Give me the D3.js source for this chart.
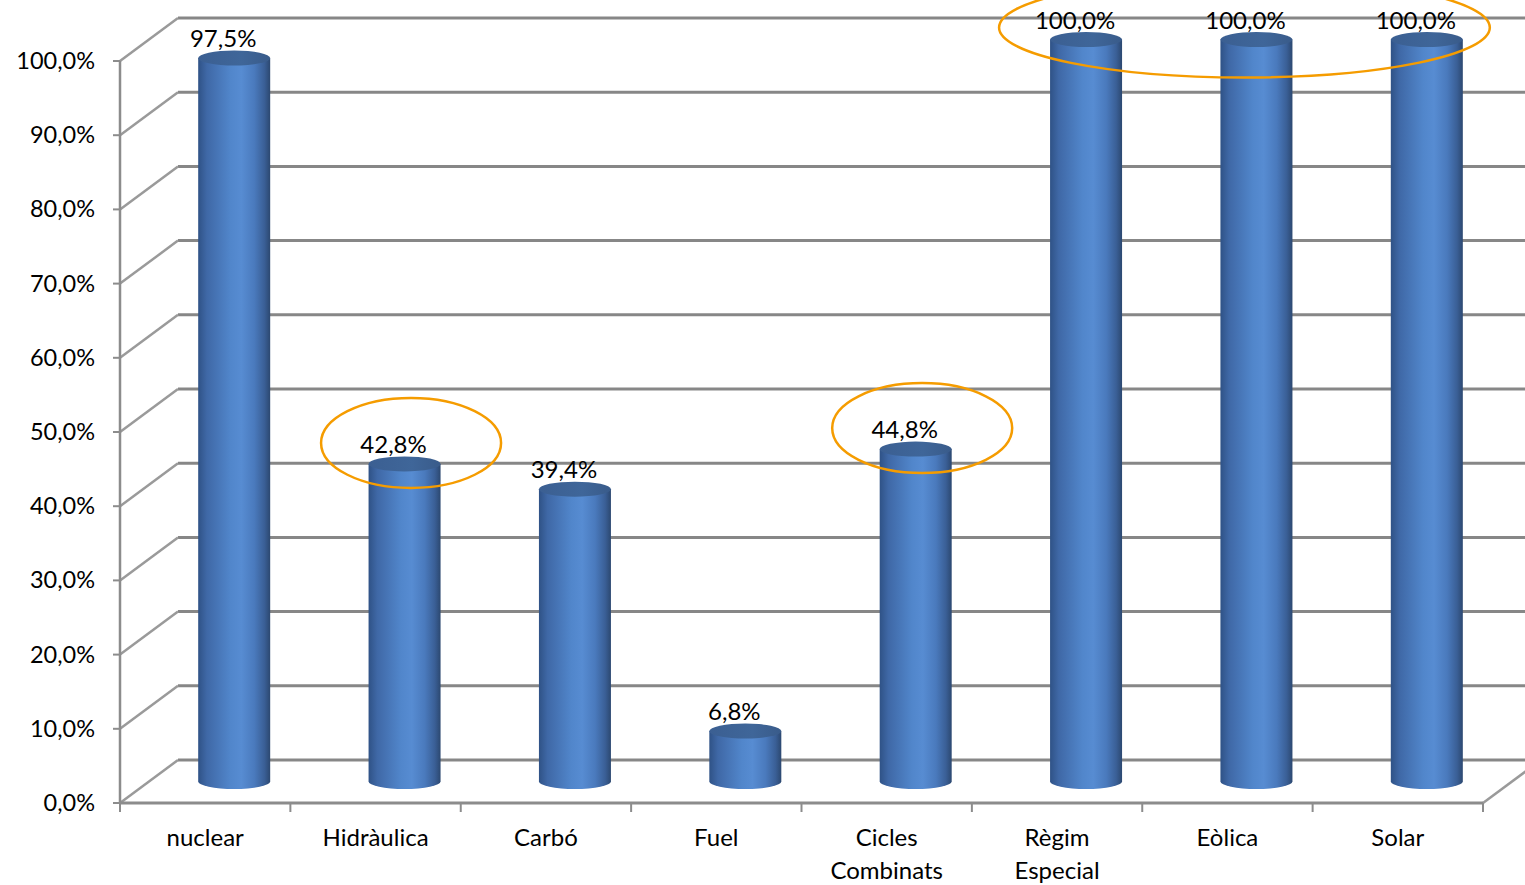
<!DOCTYPE html>
<html>
<head>
<meta charset="utf-8">
<script src="https://cdn.jsdelivr.net/npm/d3@7"></script>
<style>
  html, body { margin: 0; padding: 0; background: #fff; }
  svg { display: block; }
  text { font-family: Lato, "Open Sans", sans-serif; fill: #000; }
</style>
</head>
<body>
<svg id="chart" width="1525" height="885"></svg>
<script>
// Share of each generation source (%)
const categories = ["nuclear", "Hidràulica", "Carbó", "Fuel", "Cicles Combinats", "Règim Especial", "Eòlica", "Solar"];
const categoryLines = [["nuclear"], ["Hidràulica"], ["Carbó"], ["Fuel"], ["Cicles", "Combinats"], ["Règim", "Especial"], ["Eòlica"], ["Solar"]];
const values = [97.5, 42.8, 39.4, 6.8, 44.8, 100.0, 100.0, 100.0];
const valueLabels = ["97,5%", "42,8%", "39,4%", "6,8%", "44,8%", "100,0%", "100,0%", "100,0%"];
const yTicks = [0, 10, 20, 30, 40, 50, 60, 70, 80, 90, 100];
const yTickLabels = ["0,0%", "10,0%", "20,0%", "30,0%", "40,0%", "50,0%", "60,0%", "70,0%", "80,0%", "90,0%", "100,0%"];
// Highlighted groups (indices of categories circled together)
const highlights = [[1], [4], [5, 6, 7]];

const svg = d3.select("#chart");
const W = 1525, H = 885;

// front plane scales
const x = d3.scaleBand().domain(categories).range([120, 1483]).paddingInner(0).paddingOuter(0);
const y = d3.scaleLinear().domain([0, 100]).range([803, 61]);
// perspective depth offset of the back wall
const DX = 58, DY = -43;
const gridColor = "#878787";

const defs = svg.append("defs");
const grad = defs.append("linearGradient").attr("id", "cyl").attr("x1", 0).attr("x2", 1).attr("y1", 0).attr("y2", 0);
[[0, "#2f5286"], [0.12, "#3f68a6"], [0.45, "#5186cb"], [0.6, "#578cd2"], [0.78, "#4a7abd"], [0.92, "#3a5f96"], [1, "#2c4870"]]
  .forEach(([o, c]) => grad.append("stop").attr("offset", o).attr("stop-color", c));
const gradTop = defs.append("linearGradient").attr("id", "cyltop").attr("x1", 0).attr("x2", 1).attr("y1", 0).attr("y2", 0);
[[0, "#3b5f92"], [0.6, "#3f6699"], [1, "#395b8a"]]
  .forEach(([o, c]) => gradTop.append("stop").attr("offset", o).attr("stop-color", c));

const clip = defs.append("clipPath").attr("id", "plot");
clip.append("rect").attr("x", 0).attr("y", 0).attr("width", W).attr("height", H);

const g = svg.append("g").attr("clip-path", "url(#plot)");

// back wall gridlines
g.append("g").selectAll("line").data(yTicks).join("line")
  .attr("x1", 120 + DX).attr("x2", W + 10)
  .attr("y1", d => y(d) + DY).attr("y2", d => y(d) + DY)
  .attr("stroke", gridColor).attr("stroke-width", 3);

// side wall lines
g.append("g").selectAll("line").data(yTicks).join("line")
  .attr("x1", 120).attr("x2", 120 + DX)
  .attr("y1", d => y(d)).attr("y2", d => y(d) + DY)
  .attr("stroke", "#9a9a9a").attr("stroke-width", 2.5);

// floor: right edge
g.append("line")
  .attr("x1", 1483).attr("y1", y(0)).attr("x2", 1483 + DX).attr("y2", y(0) + DY)
  .attr("stroke", "#9a9a9a").attr("stroke-width", 2.5);

// cylinders
const rx = 36, ry = 7.5;
const barCx = c => x(c) + x.bandwidth() / 2 + DX / 2;
const barTop = i => y(values[i]) + DY / 2;
const bars = g.append("g").selectAll("g").data(categories).join("g");
bars.each(function (c, i) {
  const cx = barCx(c);
  const yb = y(0) + DY / 2;
  const yt = barTop(i);
  const s = d3.select(this);
  s.append("path")
    .attr("d", `M${cx - rx},${yt} L${cx - rx},${yb} A${rx},${ry} 0 0 0 ${cx + rx},${yb} L${cx + rx},${yt} Z`)
    .attr("fill", "url(#cyl)");
  s.append("ellipse")
    .attr("cx", cx).attr("cy", yt).attr("rx", rx).attr("ry", ry)
    .attr("fill", "url(#cyltop)");
  s.append("text")
    .attr("x", cx - 11).attr("y", yt - 11)
    .attr("text-anchor", "middle")
    .attr("font-size", 24)
    .text(valueLabels[i]);
});

// front axes
const axisColor = "#8c8c8c";
svg.append("line").attr("x1", 120).attr("x2", 120).attr("y1", y(100)).attr("y2", y(0))
  .attr("stroke", axisColor).attr("stroke-width", 2.5);
svg.append("line").attr("x1", 120).attr("x2", 1483).attr("y1", y(0)).attr("y2", y(0))
  .attr("stroke", axisColor).attr("stroke-width", 3);

// y ticks and labels
svg.append("g").selectAll("line").data(yTicks).join("line")
  .attr("x1", 113).attr("x2", 120).attr("y1", d => y(d)).attr("y2", d => y(d))
  .attr("stroke", axisColor).attr("stroke-width", 2);
svg.append("g").selectAll("text").data(yTicks).join("text")
  .attr("x", 95).attr("y", d => y(d) + 8)
  .attr("text-anchor", "end").attr("font-size", 23.5)
  .text((d, i) => yTickLabels[i]);

// x ticks
const xEdges = categories.map(c => x(c)).concat([x.range()[1]]);
svg.append("g").selectAll("line").data(xEdges).join("line")
  .attr("x1", d => d).attr("x2", d => d).attr("y1", y(0)).attr("y2", y(0) + 9)
  .attr("stroke", axisColor).attr("stroke-width", 2);

// category labels
svg.append("g").selectAll("text").data(categories).join("text")
  .attr("x", c => x(c) + x.bandwidth() / 2)
  .attr("y", 846)
  .attr("text-anchor", "middle").attr("font-size", 24)
  .each(function (c, i) {
    const t = d3.select(this);
    categoryLines[i].forEach((ln, k) => {
      t.append("tspan").attr("x", x(c) + x.bandwidth() / 2).attr("dy", k === 0 ? 0 : 33).text(ln);
    });
  });

// highlight rings around selected groups
highlights.forEach(idx => {
  const xs = idx.map(i => barCx(categories[i]));
  const top = d3.min(idx.map(barTop));
  const left = d3.min(xs), right = d3.max(xs);
  const single = idx.length === 1;
  svg.append("ellipse")
    .attr("cx", single ? left + 6.5 : (left + right) / 2 - 12)
    .attr("cy", single ? top - 21 : top - 12)
    .attr("rx", single ? 90 : (right - left) / 2 + 75)
    .attr("ry", single ? 45 : 50)
    .attr("fill", "none").attr("stroke", "#f59c00").attr("stroke-width", 2.5);
});
</script>
</body>
</html>
